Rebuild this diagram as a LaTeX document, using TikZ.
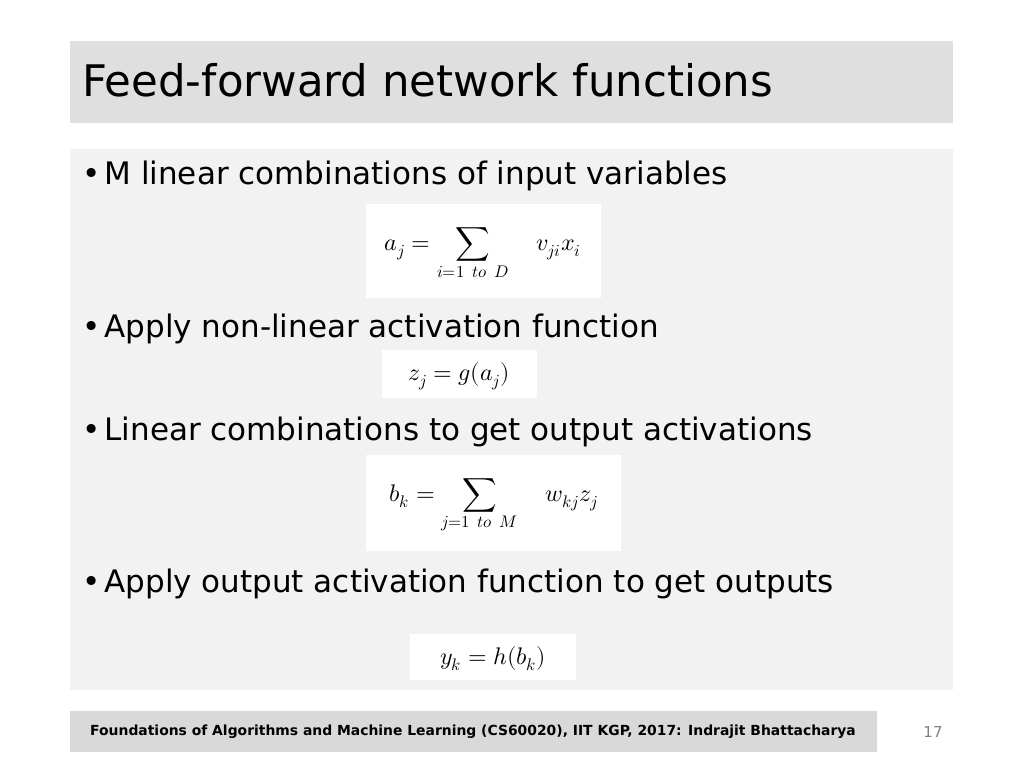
\documentclass[tikz,border=0pt]{standalone}
\usepackage{unicode-math}
\setmainfont{DejaVu Sans}
\setmathfont{Latin Modern Math}
\begin{document}
\begin{tikzpicture}[x=1pt,y=-1pt,
  bul/.style={anchor=base west,font=\fontsize{31}{36}\selectfont,inner sep=0},
  fbox/.style={fill=white,draw=none},
  fm/.style={anchor=center,font=\fontsize{24}{28}\selectfont}]
\useasboundingbox[fill=white] (0,0) rectangle (1024,768);
\fill[gray!25] (70,41) rectangle (953,123);
\node[anchor=base west,inner sep=0,font=\fontsize{43.5}{50}\selectfont] (title) at (82,96) {Feed-forward network functions};
\fill[gray!10] (70,149) rectangle (953,690);
\node[bul] (b1) at (82,184) {\textbullet\hspace{4pt}M linear combinations of input variables};
\node[bul] (b2) at (82,337) {\textbullet\hspace{4pt}Apply non-linear activation function};
\node[bul] (b3) at (82,440) {\textbullet\hspace{4pt}Linear combinations to get output activations};
\node[bul] (b4) at (82,592) {\textbullet\hspace{4pt}Apply output activation function to get outputs};
\fill[fbox] (366,204) rectangle (601,298);
\node[fm] (f1) at (483,254) {$a_j = \displaystyle\sum_{i=1\ to\ D} \quad v_{ji}x_i$};
\fill[fbox] (382,350) rectangle (537,398);
\node[fm] (f2) at (459,376) {$z_j = g(a_j)$};
\fill[fbox] (366,455) rectangle (621,551);
\node[fm] (f3) at (494,506) {$b_k = \displaystyle\sum_{j=1\ to\ M} \quad w_{kj}z_j$};
\fill[fbox] (410,634) rectangle (576,680);
\node[fm] (f4) at (493,659) {$y_k = h(b_k)$};
\fill[gray!30] (70,711) rectangle (877,752);
\node[font=\fontsize{13.9}{16}\selectfont\bfseries] (foot) at (473,732) {Foundations of Algorithms and Machine Learning (CS60020), IIT KGP, 2017: Indrajit Bhattacharya};
\node[font=\fontsize{15}{18}\selectfont,text=gray] (pg) at (933,732) {17};
\end{tikzpicture}
\end{document}
